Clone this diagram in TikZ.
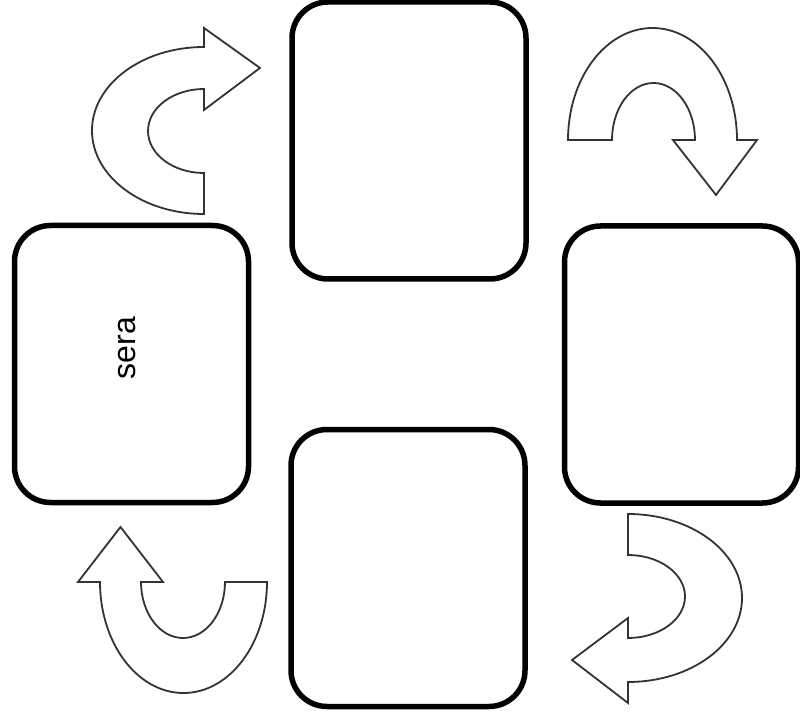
\documentclass[tikz,border=0pt]{standalone}
\usepackage{fontspec}
\setsansfont{Liberation Sans}

\begin{document}
\begin{tikzpicture}[x=1pt, y=1pt,
    box/.style={draw, line width=5.5pt, rounded corners=36pt, minimum width=234pt,
      minimum height=277pt, inner sep=0pt, fill=white},
    curl/.style={draw=black!80, line width=1.8pt, fill=white, line join=miter}]
  \useasboundingbox (0,0) rectangle (800,724);
  \node[box] (top) at (409,583.5) {};
  \node[box] (left) at (131.5,360) {};
  \node[box] (right) at (681.5,359.5) {};
  \node[box] (bottom) at (408,156) {};
  \node[rotate=90, font=\sffamily\fontsize{32}{38}\selectfont] (sera) at (127,376) {sera};
  % top left
  \draw[curl] (204,510) arc[start angle=270, end angle=90, x radius=112, y radius=83.5]
    -- (204,696) -- (260,656) -- (204,614) -- (204,635)
    arc[start angle=90, end angle=270, x radius=56, y radius=42] -- cycle;
  % top right
  \draw[curl] (568,584) arc[start angle=180, end angle=0, x radius=84.5, y radius=112]
    -- (757,584) -- (716,529) -- (673,584) -- (695,584)
    arc[start angle=0, end angle=180, x radius=41.5, y radius=57] -- cycle;
  % bottom right
  \draw[curl] (628,210) arc[start angle=90, end angle=-90, x radius=114, y radius=84]
    -- (628,21) -- (572,64) -- (628,106) -- (628,86)
    arc[start angle=-90, end angle=90, x radius=57, y radius=41.5] -- cycle;
  % bottom left
  \draw[curl] (267,142) arc[start angle=0, end angle=-180, x radius=83.5, y radius=111]
    -- (78,142) -- (120.5,197) -- (163,142) -- (141,142)
    arc[start angle=180, end angle=360, x radius=42, y radius=56] -- cycle;
\end{tikzpicture}
\end{document}
